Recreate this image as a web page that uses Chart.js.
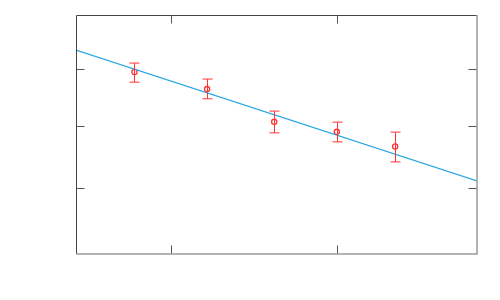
<!DOCTYPE html>
<html>
<head>
<meta charset="utf-8">
<script src="https://cdn.jsdelivr.net/npm/chart.js@4/dist/chart.umd.min.js"></script>
<style>
html,body{margin:0;padding:0;background:#fff;}
#wrap{width:500px;height:300px;}
</style>
</head>
<body>
<div id="wrap"><canvas id="c" width="500" height="300"></canvas></div>
<script>
const xValues = [0.777, 1.215, 1.620, 1.998, 2.350];
const yValues = [2.910, 2.623, 2.072, 1.904, 1.656];
const yErrLow = [0.170, 0.163, 0.185, 0.169, 0.258];
const yErrHigh = [0.151, 0.169, 0.181, 0.163, 0.243];
const fitX = [0.424, 2.844];
const fitY = [3.281, 1.078];
const xTicks = [1, 2];
const yTicks = [0.960, 2, 2.960];
const xRange = [0.424, 2.844];
const yRange = [-0.152, 3.870];

const errorBars = {
  id: 'errorBars',
  afterDatasetDraw(chart, args) {
    if (args.index !== 0) return;
    const ctx = chart.ctx, xs = chart.scales.x, ys = chart.scales.y;
    ctx.save();
    ctx.strokeStyle = '#ff3333';
    ctx.lineWidth = 1;
    xValues.forEach((xv, i) => {
      const px = Math.round(xs.getPixelForValue(xv)) + 0.5;
      const top = ys.getPixelForValue(yValues[i] + yErrHigh[i]);
      const bot = ys.getPixelForValue(yValues[i] - yErrLow[i]);
      ctx.beginPath();
      ctx.moveTo(px, top); ctx.lineTo(px, bot);
      ctx.moveTo(px - 5, top); ctx.lineTo(px + 5, top);
      ctx.moveTo(px - 5, bot); ctx.lineTo(px + 5, bot);
      ctx.stroke();
    });
    ctx.restore();
  }
};

const frame = {
  id: 'frame',
  afterDraw(chart) {
    const ctx = chart.ctx, a = chart.chartArea, xs = chart.scales.x, ys = chart.scales.y;
    const L = 8.5;
    ctx.save();
    ctx.lineWidth = 1;
    // ticks
    ctx.strokeStyle = '#555';
    ctx.beginPath();
    xTicks.forEach(v => {
      const px = Math.round(xs.getPixelForValue(v)) + 0.5;
      ctx.moveTo(px, a.bottom); ctx.lineTo(px, a.bottom - L);
      ctx.moveTo(px, a.top); ctx.lineTo(px, a.top + L);
    });
    yTicks.forEach(v => {
      const py = Math.round(ys.getPixelForValue(v)) + 0.5;
      ctx.moveTo(a.left, py); ctx.lineTo(a.left + L, py);
      ctx.moveTo(a.right, py); ctx.lineTo(a.right - L, py);
    });
    ctx.stroke();
    // frame: left & top dark, right & bottom lighter
    ctx.strokeStyle = '#444';
    ctx.beginPath();
    ctx.moveTo(a.left + 0.5, a.bottom); ctx.lineTo(a.left + 0.5, a.top + 0.5); ctx.lineTo(a.right, a.top + 0.5);
    ctx.stroke();
    ctx.strokeStyle = '#9a9a9a';
    ctx.lineWidth = 1.5;
    ctx.beginPath();
    ctx.moveTo(a.left, a.bottom); ctx.lineTo(a.right, a.bottom); ctx.lineTo(a.right, a.top);
    ctx.stroke();
    ctx.restore();
  }
};

new Chart(document.getElementById('c'), {
  type: 'scatter',
  data: {
    datasets: [
      {
        data: fitX.map((x, i) => ({x, y: fitY[i]})),
        showLine: true,
        borderColor: '#2aa7e0',
        borderWidth: 1.2,
        pointRadius: 0,
        fill: false
      },
      {
        data: xValues.map((x, i) => ({x, y: yValues[i]})),
        showLine: false,
        pointStyle: 'circle',
        pointRadius: 2.6,
        borderColor: '#ff3333',
        backgroundColor: 'rgba(255,255,255,0)',
        borderWidth: 1.3
      }
    ]
  },
  options: {
    responsive: false,
    animation: false,
    events: [],
    layout: {padding: {left: 76, right: 23, top: 15, bottom: 46}},
    plugins: {legend: {display: false}, tooltip: {enabled: false}},
    scales: {
      x: {type: 'linear', display: false, min: xRange[0], max: xRange[1]},
      y: {type: 'linear', display: false, min: yRange[0], max: yRange[1]}
    }
  },
  plugins: [errorBars, frame]
});
</script>
</body>
</html>
